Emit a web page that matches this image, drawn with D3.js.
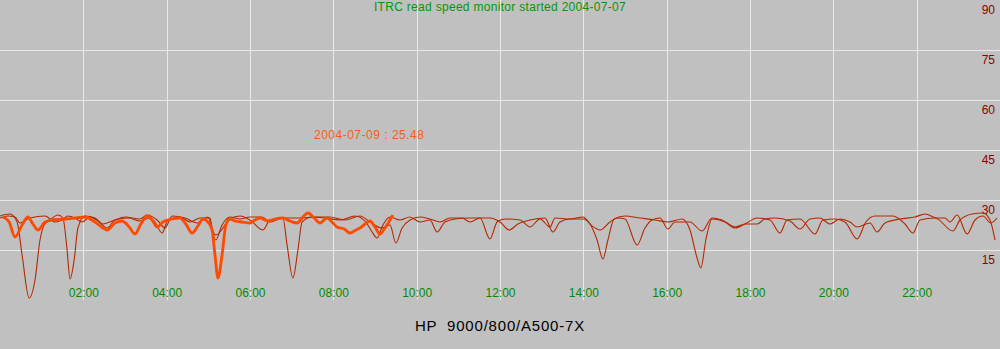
<!DOCTYPE html>
<html>
<head>
<meta charset="utf-8">
<script src="https://cdn.jsdelivr.net/npm/d3@7"></script>
<style>
  body { margin: 0; background: #c0c0c0; }
  svg { display: block; font-family: "Liberation Sans", Arial, sans-serif; }
</style>
</head>
<body>
<div id="chart"></div>
<script>
// hour ticks along the bottom
var hourTicks = [2, 4, 6, 8, 10, 12, 14, 16, 18, 20, 22];
var hourLabels = ["02:00", "04:00", "06:00", "08:00", "10:00", "12:00", "14:00", "16:00", "18:00", "20:00", "22:00"];
// speed ticks on the right
var speedTicks = [15, 30, 45, 60, 75, 90];

// first thin day line: hour, value
var dayOneHours = [0.00, 0.24, 0.41, 0.53, 0.70, 0.84, 0.96, 1.06, 1.20, 1.39, 1.51, 1.61, 1.68, 1.78, 1.87, 2.04, 2.28, 2.47, 2.69, 3.00, 3.36, 3.53, 3.77, 3.96, 4.13, 4.44, 4.73, 4.99, 5.18, 5.33, 5.52, 5.76, 6.00, 6.29, 6.48, 6.79, 6.89, 7.03, 7.15, 7.25, 7.49, 7.80, 8.16, 8.52, 8.78, 8.93, 9.05, 9.19, 9.36, 9.60, 9.84, 10.08, 10.32, 10.49, 10.68, 10.92, 11.28, 11.76, 12.00, 12.22, 12.43, 12.72, 13.08, 13.27, 13.44, 13.68, 13.99, 14.16, 14.33, 14.47, 14.59, 14.74, 15.00, 15.36, 15.72, 16.03, 16.37, 16.56, 16.73, 16.82, 16.94, 17.09, 17.40, 17.64, 17.88, 18.17, 18.48, 18.72, 18.89, 19.20, 19.56, 19.75, 20.04, 20.28, 20.57, 20.78, 21.00, 21.43, 21.72, 21.91, 22.08, 22.44, 22.87, 23.04, 23.33, 23.59, 23.76, 23.88];
var dayOneValues = [25.2, 25.8, 23.4, 13.5, 0.6, 6.0, 18.0, 22.5, 24.0, 25.5, 24.6, 15.0, 6.3, 12.0, 21.6, 25.2, 24.6, 22.8, 23.7, 24.9, 24.3, 25.5, 24.0, 21.6, 25.2, 24.6, 23.1, 24.9, 18.0, 22.5, 24.9, 24.3, 24.9, 24.9, 23.4, 24.6, 16.5, 6.6, 15.0, 23.4, 24.9, 24.6, 24.0, 25.2, 23.4, 20.4, 18.6, 22.5, 24.9, 24.0, 24.9, 23.4, 24.0, 20.4, 23.4, 24.3, 24.6, 24.6, 23.4, 21.0, 22.8, 24.0, 24.6, 20.4, 23.4, 24.3, 24.3, 22.8, 18.0, 12.3, 18.0, 24.3, 25.2, 24.6, 24.0, 23.4, 24.3, 21.0, 12.6, 9.6, 18.0, 24.3, 23.4, 21.6, 22.8, 24.6, 24.0, 20.1, 24.0, 24.3, 19.8, 24.0, 24.3, 23.4, 18.3, 23.4, 25.2, 25.2, 22.8, 20.1, 24.0, 24.6, 20.7, 24.0, 25.8, 26.1, 24.0, 18.0];

// second thin day line: hour, value
var dayTwoHours = [0.00, 0.19, 0.36, 0.48, 0.72, 1.08, 1.32, 1.49, 1.63, 1.80, 1.97, 2.16, 2.35, 2.57, 2.76, 3.07, 3.36, 3.60, 3.72, 3.89, 4.03, 4.32, 4.56, 4.80, 5.04, 5.09, 5.18, 5.52, 5.76, 6.00, 6.31, 6.48, 6.84, 7.20, 7.56, 7.92, 8.28, 8.64, 8.88, 9.17, 9.36, 9.50, 9.65, 9.84, 10.08, 10.32, 10.56, 10.80, 11.09, 11.28, 11.52, 11.76, 11.93, 12.12, 12.48, 12.72, 12.96, 13.20, 13.32, 13.68, 13.99, 14.21, 14.40, 14.64, 14.81, 15.00, 15.29, 15.48, 15.65, 15.84, 16.03, 16.20, 16.56, 16.85, 17.09, 17.33, 17.64, 17.88, 18.17, 18.36, 18.60, 18.96, 19.20, 19.44, 19.68, 19.92, 20.16, 20.40, 20.57, 20.88, 21.05, 21.24, 21.60, 21.96, 22.20, 22.49, 22.68, 22.80, 22.97, 23.21, 23.40, 23.59, 23.78, 23.93];
var dayTwoValues = [24.6, 25.2, 24.9, 23.1, 24.6, 25.2, 23.4, 24.0, 25.2, 24.6, 23.4, 24.9, 23.7, 21.6, 24.0, 24.6, 23.7, 24.6, 23.4, 20.1, 24.0, 24.9, 23.4, 24.6, 24.6, 21.6, 19.5, 24.3, 25.2, 24.0, 21.0, 24.0, 24.6, 24.6, 24.9, 24.9, 24.0, 25.2, 23.4, 21.6, 22.5, 17.1, 21.6, 24.0, 24.9, 24.3, 23.4, 24.6, 24.6, 23.4, 24.6, 18.3, 23.4, 24.3, 24.0, 21.9, 24.3, 21.9, 24.6, 24.3, 24.9, 22.2, 21.0, 23.4, 24.6, 24.3, 16.5, 21.6, 24.0, 24.6, 21.3, 23.4, 23.4, 20.7, 24.6, 24.0, 21.9, 22.8, 22.8, 24.3, 24.6, 23.7, 21.3, 24.3, 24.6, 22.8, 24.3, 23.4, 21.9, 23.1, 20.4, 23.1, 24.3, 24.9, 25.8, 24.6, 24.6, 23.4, 25.5, 19.8, 24.0, 25.2, 23.1, 24.6];

// today, thick orange line: hour, value
var todayHours = [0.07, 0.22, 0.36, 0.53, 0.67, 0.79, 0.91, 1.08, 1.25, 1.56, 1.80, 2.04, 2.28, 2.57, 2.76, 2.93, 3.10, 3.24, 3.38, 3.53, 3.65, 3.77, 3.91, 4.13, 4.32, 4.46, 4.61, 4.75, 4.87, 4.99, 5.09, 5.16, 5.23, 5.33, 5.42, 5.52, 5.64, 5.81, 6.00, 6.12, 6.24, 6.43, 6.60, 6.79, 6.96, 7.13, 7.27, 7.39, 7.54, 7.68, 7.85, 7.97, 8.09, 8.26, 8.40, 8.54, 8.64, 8.76, 8.88, 9.00, 9.12, 9.24, 9.43];
var todayValues = [24.9, 23.4, 18.9, 22.5, 24.9, 22.8, 21.0, 23.4, 24.0, 24.3, 24.6, 24.9, 23.4, 21.0, 23.1, 23.7, 21.9, 19.8, 22.8, 25.2, 24.0, 21.9, 23.4, 24.3, 24.6, 22.8, 20.1, 22.2, 24.3, 23.4, 21.0, 13.5, 6.6, 13.5, 22.5, 24.3, 23.7, 23.4, 23.1, 24.0, 24.6, 23.7, 24.3, 24.6, 23.7, 23.1, 24.9, 26.1, 24.6, 23.1, 24.6, 23.4, 21.9, 21.3, 20.1, 21.0, 21.6, 22.8, 23.7, 21.9, 19.8, 21.6, 25.5];

var width = 1000, height = 349, plotBottom = 300;

var svg = d3.select("#chart").append("svg")
    .attr("width", width)
    .attr("height", height);

svg.append("rect")
    .attr("width", width)
    .attr("height", height)
    .attr("fill", "#c0c0c0");

var x = d3.scaleLinear().domain([0, 24]).range([0, width]);
var y = d3.scaleLinear().domain([0, 90]).range([plotBottom, 0]);

// vertical grid
var xGrid = svg.append("g")
    .attr("transform", "translate(0," + plotBottom + ")")
    .call(d3.axisBottom(x).tickValues(hourTicks).tickSize(-plotBottom).tickFormat(""));
xGrid.select(".domain").remove();
xGrid.selectAll("line").attr("stroke", "#e8e8e8").attr("shape-rendering", "crispEdges");

// horizontal grid
var yGrid = svg.append("g")
    .call(d3.axisLeft(y).tickValues(speedTicks.slice(0, 5)).tickSize(-width).tickFormat(""));
yGrid.select(".domain").remove();
yGrid.selectAll("line").attr("stroke", "#e8e8e8").attr("shape-rendering", "crispEdges");

// hour labels
var xAxis = svg.append("g")
    .attr("transform", "translate(0,288)")
    .call(d3.axisBottom(x).tickValues(hourTicks).tickSize(0).tickPadding(0)
        .tickFormat(function(d, i) { return hourLabels[i]; }));
xAxis.select(".domain").remove();
xAxis.selectAll("text")
    .attr("fill", "#008c00")
    .attr("font-size", "12px")
    .attr("font-family", "Liberation Sans, Arial, sans-serif");

// speed labels, sitting just under each grid line
var yAxis = svg.append("g")
    .attr("transform", "translate(995,10)")
    .call(d3.axisLeft(y).tickValues(speedTicks).tickSize(0).tickPadding(0));
yAxis.select(".domain").remove();
yAxis.selectAll("text")
    .attr("fill", "#8c0000")
    .attr("font-size", "12px")
    .attr("font-family", "Liberation Sans, Arial, sans-serif");

var line = d3.line()
    .x(function(d) { return x(d[0]); })
    .y(function(d) { return y(d[1]); })
    .curve(d3.curveMonotoneX);

var dayOne = d3.zip(dayOneHours, dayOneValues);
var dayTwo = d3.zip(dayTwoHours, dayTwoValues);
var today = d3.zip(todayHours, todayValues);

[dayOne, dayTwo].forEach(function(series) {
    svg.append("path")
        .datum(series)
        .attr("fill", "none")
        .attr("stroke", "#b32800")
        .attr("stroke-width", 1.1)
        .attr("d", line);
});

svg.append("path")
    .datum(today)
    .attr("fill", "none")
    .attr("stroke", "#ff4a00")
    .attr("stroke-width", 2.8)
    .attr("stroke-linejoin", "round")
    .attr("d", line);

// texts
svg.append("text")
    .attr("x", 500).attr("y", 11)
    .attr("text-anchor", "middle")
    .attr("fill", "#009a00")
    .attr("font-size", "12px")
    .attr("letter-spacing", "0.3px")
    .text("ITRC read speed monitor started 2004-07-07");

svg.append("text")
    .attr("x", 314).attr("y", 139)
    .attr("fill", "#ff5a14")
    .attr("font-size", "12px")
    .attr("letter-spacing", "0.5px")
    .text("2004-07-09 : 25.48");

svg.append("text")
    .attr("x", 500).attr("y", 331)
    .attr("text-anchor", "middle")
    .attr("fill", "#000000")
    .attr("font-size", "15px")
    .attr("letter-spacing", "0.8px")
    .attr("xml:space", "preserve")
    .text("HP  9000/800/A500-7X");
</script>
</body>
</html>
